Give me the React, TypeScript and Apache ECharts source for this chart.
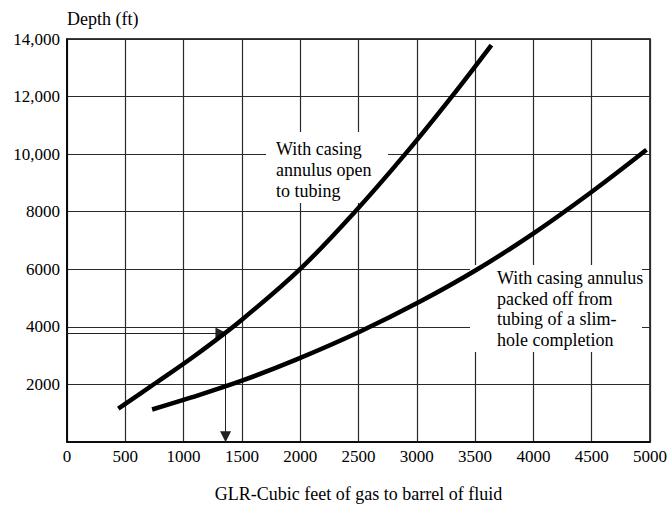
import React, { useEffect, useRef } from "react";
import * as echarts from "echarts";

const xTicks = [0, 500, 1000, 1500, 2000, 2500, 3000, 3500, 4000, 4500, 5000];
const yTickLabels: Record<number, string> = {
  0: "",
  2000: "2000",
  4000: "4000",
  6000: "6000",
  8000: "8000",
  10000: "10,000",
  12000: "12,000",
  14000: "14,000",
};

// With casing annulus open to tubing
const glrOpen = [440, 760, 1090, 1500, 2010, 2470, 2900, 3300, 3640];
const depthOpen = [1160, 2050, 2980, 4250, 6050, 8000, 10000, 12000, 13790];

// With casing annulus packed off from tubing of a slim-hole completion
const glrPacked = [730, 1060, 1500, 1970, 2510, 3020, 3520, 4020, 4530, 4970];
const depthPacked = [1130, 1540, 2130, 2870, 3830, 4860, 6000, 7300, 8780, 10150];

// Example reading: depth -> GLR (arrow ends are where the arrowheads sit)
const exampleDepth = 3790;
const exampleGLR = 1360;
const exampleArrowGLREnd = 1320;
const exampleArrowDepthEnd = 180;

const labelOpen = "With casing\nannulus open\nto tubing";
const labelPacked = "With casing annulus\npacked off from\ntubing of a slim-\nhole completion";

const FONT = "'Liberation Serif', 'Times New Roman', serif";

export default function App() {
  const ref = useRef<HTMLDivElement>(null);
  useEffect(() => {
    if (!ref.current) return;
    const chart = echarts.init(ref.current, undefined, { renderer: "svg" });
    const open = glrOpen.map((x, i) => [x, depthOpen[i]]);
    const packed = glrPacked.map((x, i) => [x, depthPacked[i]]);
    chart.setOption({
      animation: false,
      backgroundColor: "#fff",
      grid: {
        left: 67,
        right: 18,
        top: 39,
        bottom: 59,
        show: true,
        borderColor: "#000",
        borderWidth: 1.5,
      },
      xAxis: {
        type: "value",
        min: xTicks[0],
        max: xTicks[xTicks.length - 1],
        interval: 500,
        name: "GLR-Cubic feet of gas to barrel of fluid",
        nameLocation: "middle",
        nameGap: 52,
        nameTextStyle: {
          fontFamily: FONT,
          fontSize: 18,
          color: "#000",
          verticalAlign: "middle",
        },
        axisLine: { lineStyle: { color: "#000", width: 1.5 } },
        axisTick: { show: false },
        axisLabel: {
          fontFamily: FONT,
          fontSize: 17,
          color: "#000",
          margin: 6,
          formatter: (v: number) => String(v),
        },
        splitLine: { show: true, lineStyle: { color: "#2a2a2a", width: 1.2 } },
      },
      yAxis: {
        type: "value",
        min: 0,
        max: 14000,
        interval: 2000,
        name: "Depth (ft)",
        nameLocation: "end",
        nameGap: 20,
        nameTextStyle: {
          fontFamily: FONT,
          fontSize: 18,
          color: "#000",
          align: "left",
          verticalAlign: "middle",
        },
        axisLine: { show: true, lineStyle: { color: "#000", width: 1.5 } },
        axisTick: { show: false },
        axisLabel: {
          fontFamily: FONT,
          fontSize: 17,
          color: "#000",
          margin: 7,
          formatter: (v: number) => yTickLabels[v] ?? String(v),
        },
        splitLine: { show: true, lineStyle: { color: "#2a2a2a", width: 1.2 } },
      },
      graphic: [
        {
          type: "rect",
          z: 1,
          silent: true,
          shape: { x: 266, y: 132, width: 122, height: 71 },
          style: { fill: "#fff" },
        },
        {
          type: "rect",
          z: 1,
          silent: true,
          shape: { x: 470, y: 265, width: 172, height: 87 },
          style: { fill: "#fff" },
        },
        {
          type: "text",
          z: 10,
          x: 276,
          y: 138,
          style: {
            text: labelOpen,
            font: `18px ${FONT}`,
            fill: "#000",
            lineHeight: 21,
            verticalAlign: "top",
            align: "left",
          },
        },
        {
          type: "text",
          z: 10,
          x: 497,
          y: 268,
          style: {
            text: labelPacked,
            font: `18px ${FONT}`,
            fill: "#000",
            lineHeight: 20.5,
            verticalAlign: "top",
            align: "left",
          },
        },
      ],
      series: [
        {
          type: "line",
          name: "open",
          data: open,
          smooth: 0.35,
          showSymbol: false,
          silent: true,
          z: 5,
          lineStyle: { color: "#000", width: 4.5 },
        },
        {
          type: "line",
          name: "packed",
          data: packed,
          smooth: 0.35,
          showSymbol: false,
          silent: true,
          z: 5,
          lineStyle: { color: "#000", width: 4.5 },
        },
        {
          type: "line",
          name: "example",
          data: [],
          silent: true,
          z: 6,
          markLine: {
            silent: true,
            animation: false,
            symbol: ["none", "triangle"],
            symbolSize: [11, 11],
            label: { show: false },
            lineStyle: { color: "#222", width: 1, type: "solid" },
            itemStyle: { color: "#000" },
            data: [
              [
                { coord: [0, exampleDepth] },
                { coord: [exampleArrowGLREnd, exampleDepth] },
              ],
              [
                { coord: [exampleGLR, exampleDepth] },
                { coord: [exampleGLR, exampleArrowDepthEnd] },
              ],
            ],
          },
        },
      ],
    });
    return () => chart.dispose();
  }, []);
  return (
    <div
      ref={ref}
      style={{ position: "absolute", left: 0, top: 0, width: 670, height: 508 }}
    />
  );
}
